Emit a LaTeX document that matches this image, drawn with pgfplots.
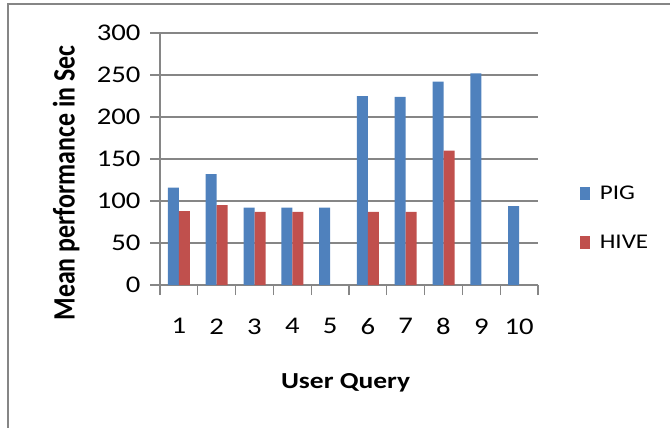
\documentclass[border=0pt]{standalone}
\usepackage{fontspec}
\setmainfont{Carlito}[FakeStretch=1.2]
\newfontfamily\plainfont{Carlito}
\usepackage{pgfplots}
\pgfplotsset{compat=1.18}
\definecolor{pigblue}{HTML}{4F81BD}
\definecolor{hivered}{HTML}{C0504D}
\definecolor{gridgray}{HTML}{868686}
\begin{document}
\begin{tikzpicture}[x=1bp,y=1bp]
\useasboundingbox (0,0) rectangle (670,427);
\draw[gridgray, line width=1.5bp] (8,-2) -- (8,423) -- (672,423);
\begin{axis}[
  at={(160bp,142bp)}, anchor=south west,
  scale only axis, width=378bp, height=252bp,
  ybar=0pt, bar width=11bp,
  xmin=0.5, xmax=10.5, ymin=0, ymax=300,
  xtick={1,...,10},
  minor xtick={0.5,1.5,...,10.5},
  ytick={0,50,...,300},
  axis lines*=left,
  axis line style={gridgray, line width=1.2bp},
  tick align=outside,
  major tick length=10bp, minor tick length=10bp,
  major x tick style={draw=none},
  minor x tick style={gridgray, line width=1.2bp},
  major y tick style={gridgray, line width=1.2bp},
  ymajorgrids,
  grid style={gridgray, line width=1.2bp},
  /pgf/number format/assume math mode=true,
  ticklabel style={font=\fontsize{24}{28}\selectfont, text=black},
  yticklabel style={xshift=-6bp},
  xticklabel style={yshift=-20bp},
  xlabel={User Query},
  ylabel={Mean performance in Sec},
  xlabel style={font=\fontsize{23}{27}\selectfont\bfseries,
    at={(axis description cs:0.491,-0.39)}, anchor=center},
  ylabel style={font=\fontsize{26}{30}\plainfont\bfseries,
    at={(axis description cs:-0.248,0.405)}, anchor=center, yscale=1.2},
  legend style={draw=none, fill=none, at={(1.11,0.266)}, anchor=west,
    font=\fontsize{21}{25}\selectfont, row sep=30bp, column sep=8bp,
    inner sep=0pt, legend cell align=left},
  legend image code/.code={\fill[#1] (0bp,-6.5bp) rectangle (10bp,6.5bp);},
]
\addplot[fill=pigblue, draw=none] coordinates {
  (1,116) (2,132) (3,92) (4,92) (5,92) (6,225) (7,224) (8,242) (9,252) (10,94)};
\addplot[fill=hivered, draw=none] coordinates {
  (1,88) (2,95) (3,87) (4,87) (6,87) (7,87) (8,160)};
\legend{PIG, HIVE}
\end{axis}
\end{tikzpicture}
\end{document}
